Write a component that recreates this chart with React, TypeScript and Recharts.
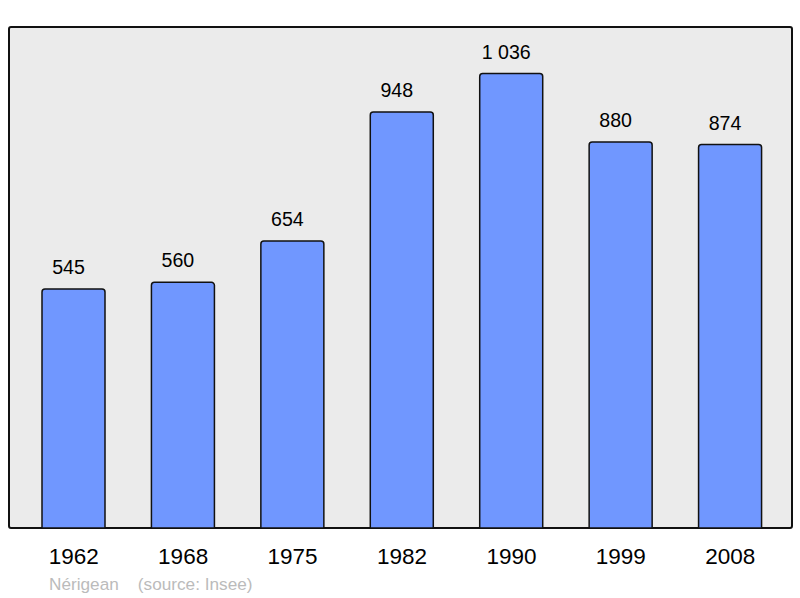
import { Bar, BarChart, LabelList, XAxis, YAxis } from "recharts";

const years = ["1962", "1968", "1975", "1982", "1990", "1999", "2008"];
const population = [545, 560, 654, 948, 1036, 880, 874];

const data = years.map((year, i) => ({ year, population: population[i] }));

const font = "'Liberation Sans', Arial, sans-serif";

function formatValue(v: number) {
  return String(v).replace(/\B(?=(\d{3})+(?!\d))/g, " ");
}

function ValueLabel(props: any) {
  const { x, y, width, value } = props;
  return (
    <text x={x + width / 2 - 5} y={y - 15} textAnchor="middle" fontSize={19.6} fill="#000" fontFamily={font}>
      {formatValue(value)}
    </text>
  );
}

function YearTick(props: any) {
  const { x, y, payload } = props;
  return (
    <text x={x} y={y + 36} textAnchor="middle" fontSize={22.5} fill="#000" fontFamily={font}>
      {payload.value}
    </text>
  );
}

export default function App() {
  return (
    <div style={{ position: "absolute", left: 0, top: 0, width: 800, height: 598, background: "#fff" }}>
      <div
        style={{
          position: "absolute",
          left: 8,
          top: 26,
          width: 785,
          height: 503,
          boxSizing: "border-box",
          border: "2px solid #111",
          borderRadius: 3,
          background: "#ebebeb",
        }}
      />
      <div style={{ position: "absolute", left: 0, top: 0 }}>
        <BarChart width={800} height={598} data={data} margin={{ top: 27, right: 15, bottom: 40, left: 19 }} barSize={63}>
          <XAxis dataKey="year" axisLine={false} tickLine={false} tickSize={0} tickMargin={0} height={30} tick={<YearTick />} interval={0} />
          <YAxis hide domain={[0, 1142]} />
          <Bar dataKey="population" fill="#7097ff" stroke="#111" strokeWidth={1.5} radius={[3, 3, 0, 0]} isAnimationActive={false}>
            <LabelList dataKey="population" content={<ValueLabel />} />
          </Bar>
        </BarChart>
      </div>
      <div
        style={{
          position: "absolute",
          left: 49,
          top: 574,
          fontFamily: font,
          fontSize: 17.2,
          color: "#bbb",
          whiteSpace: "pre",
        }}
      >
        {"Nérigean    (source: Insee)"}
      </div>
    </div>
  );
}
